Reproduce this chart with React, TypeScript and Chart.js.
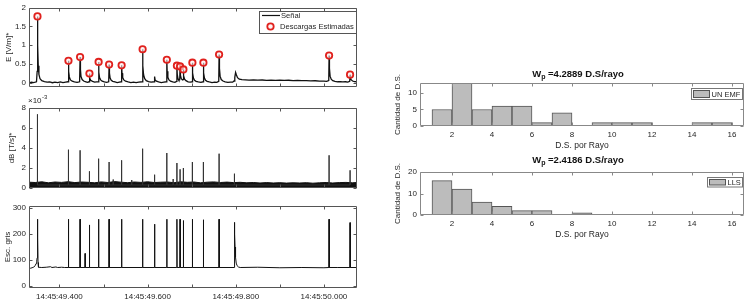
import React, { useEffect, useRef } from "react";
import { Chart, registerables } from "chart.js";

Chart.register(...registerables);

const W = 752;
const H = 305;
const FONT = '"Liberation Sans", Arial, sans-serif';
const TXT = "#262626";

// ---- time axis (ms after 14:45:49.000) ----
const timeMin = 331;
const timeMax = 1075;
const timeTickValues = [400, 600, 800, 1000];
const timeTickLabels = ["14:45:49.400", "14:45:49.600", "14:45:49.800", "14:45:50.000"];
const timeMinorTicks = [400, 500, 600, 700, 800, 900, 1000];

// ---- E field signal [ms, V/m] ----
const eSignal: [number, number][] = [
  [331, 0.01], [334, -0.005], [337, 0.012], [341, 0.0], [345, 0.01], [348, 0.02], [349.5, 0.3],
  [350.2, 1.77], [351, 1.0], [352, 0.45], [353.5, 0.22], [356, 0.1], [360, 0.05], [366, 0.025],
  [372, 0.01], [378, 0.015], [384, -0.005], [390, 0.012], [396, 0.0], [402, 0.015], [408, -0.003],
  [414, 0.012], [419.5, 0.02], [420.5, 0.58], [421.3, 0.3], [422.5, 0.15], [425, 0.07], [429, 0.035],
  [434, 0.015], [440, 0.005], [445.8, 0.02], [446.9, 0.68], [447.7, 0.35], [449, 0.16], [451.5, 0.08],
  [455, 0.04], [460, 0.02], [464, 0.005], [467.3, 0.02], [468.1, 0.24], [469, 0.12], [471, 0.06],
  [475, 0.03], [480, 0.01], [484, 0.015], [488, 0.02], [488.9, 0.55], [489.7, 0.28], [491, 0.13],
  [493.5, 0.07], [497, 0.035], [502, 0.015], [507, 0.005], [511.8, 0.02], [512.7, 0.48], [513.5, 0.25],
  [515, 0.12], [517.5, 0.06], [521, 0.03], [526, 0.015], [531, 0.0], [536, 0.012], [540.2, 0.02],
  [541.1, 0.46], [542, 0.25], [543.5, 0.13], [546, 0.07], [550, 0.035], [556, 0.015], [562, 0.0],
  [568, 0.012], [574, -0.003], [580, 0.012], [587.8, 0.02], [588.7, 0.89], [589.5, 0.45], [591, 0.2],
  [593.5, 0.1], [597, 0.05], [602, 0.025], [608, 0.01], [614.8, 0.02], [615.9, 0.16], [617, 0.07],
  [620, 0.035], [625, 0.015], [631, 0.0], [637, 0.012], [642.8, 0.02], [643.6, 0.61], [644.4, 0.3],
  [646, 0.14], [648.5, 0.07], [652, 0.035], [657, 0.015], [662, 0.005], [665.7, 0.03], [666.5, 0.45],
  [667.3, 0.22], [669, 0.1], [671, 0.06], [672.9, 0.07], [673.7, 0.43], [674.5, 0.2], [676.5, 0.1],
  [679, 0.07], [680.4, 0.08], [681.2, 0.35], [682, 0.18], [684, 0.09], [687, 0.05], [692, 0.02],
  [697, 0.01], [700.8, 0.02], [701.6, 0.53], [702.4, 0.26], [704, 0.12], [706.5, 0.06], [710, 0.03],
  [715, 0.015], [721, 0.003], [725.8, 0.02], [726.6, 0.53], [727.4, 0.26], [729, 0.12], [731.5, 0.06],
  [735, 0.03], [740, 0.015], [746, 0.0], [752, 0.012], [757, 0.005], [761.4, 0.03], [762.2, 0.75],
  [763, 0.38], [764.5, 0.17], [767, 0.08], [771, 0.04], [776, 0.02], [782, 0.005], [788, 0.012],
  [793, 0.01], [796, 0.04], [797.8, 0.14], [799.6, 0.27], [801.5, 0.2], [804, 0.13], [808, 0.09],
  [814, 0.075], [822, 0.07], [830, 0.065], [840, 0.07], [850, 0.062], [860, 0.067], [870, 0.06],
  [880, 0.065], [890, 0.057], [900, 0.062], [910, 0.055], [920, 0.06], [930, 0.052], [940, 0.056],
  [950, 0.05], [960, 0.053], [970, 0.045], [980, 0.047], [990, 0.038], [1000, 0.035], [1006, 0.03],
  [1010.9, 0.05], [1011.7, 0.72], [1012.5, 0.38], [1014, 0.17], [1016.5, 0.09], [1020, 0.05],
  [1025, 0.03], [1031, 0.02], [1037, 0.025], [1043, 0.015], [1049, 0.02], [1054, 0.012], [1058.5, 0.03],
  [1059.3, 0.21], [1060.2, 0.12], [1062, 0.07], [1065, 0.04], [1069, 0.025], [1075, 0.02],
];

// ---- estimated discharges ----
const peakTimes = [350.2, 420.5, 446.9, 468.1, 488.9, 512.7, 541.1, 588.7, 643.6, 666.5, 673.7, 681.2, 701.6, 726.6, 762.2, 1011.7, 1059.3];
const peakValues = [1.77, 0.58, 0.68, 0.24, 0.55, 0.48, 0.46, 0.89, 0.61, 0.45, 0.43, 0.35, 0.53, 0.53, 0.75, 0.72, 0.21];
const eYTicks = [0, 0.5, 1, 1.5, 2];

// ---- dB/dt (x10^-3 T/s) ----
const dbSpikeTimes = [350.2, 420.5, 446.9, 468.1, 488.9, 512.7, 522, 541.1, 564, 588.7, 615.9, 643.6, 658, 666.5, 673.7, 681.2, 701.6, 726.6, 762.2, 797, 1011.7, 1059.3];
const dbSpikeValues = [7.37, 3.83, 3.77, 1.67, 2.93, 2.6, 0.85, 2.77, 0.8, 3.93, 1.33, 3.5, 0.9, 2.5, 1.87, 2.0, 2.6, 2.6, 3.43, 1.43, 3.27, 1.77];
const dbNoiseTop: [number, number][] = [
  [331, 0.58], [345, 0.55], [360, 0.62], [375, 0.52], [390, 0.6], [405, 0.56], [420, 0.63], [435, 0.54],
  [450, 0.6], [465, 0.57], [480, 0.52], [495, 0.61], [510, 0.55], [525, 0.64], [540, 0.58], [555, 0.53],
  [570, 0.6], [585, 0.56], [600, 0.62], [615, 0.55], [630, 0.58], [645, 0.6], [660, 0.53], [675, 0.62],
  [690, 0.57], [705, 0.6], [720, 0.52], [735, 0.58], [750, 0.61], [765, 0.55], [780, 0.59], [795, 0.54],
  [810, 0.57], [825, 0.52], [840, 0.55], [855, 0.5], [870, 0.54], [885, 0.5], [900, 0.53], [915, 0.49],
  [930, 0.52], [945, 0.5], [960, 0.53], [975, 0.48], [990, 0.52], [1005, 0.55], [1020, 0.5], [1035, 0.54],
  [1050, 0.56], [1065, 0.52], [1075, 0.55],
];
const dbYTicks = [0, 2, 4, 6, 8];

// ---- grey scale (video) ----
const graySignal: [number, number][] = [
  [331, 66], [334, 68], [338, 70], [342, 73], [345, 78], [347, 86], [348.5, 95], [349.5, 108],
  [350.2, 257], [350.8, 185], [351.5, 90], [352.5, 72], [360, 71], [370, 72], [380, 74], [383, 71],
  [392, 73], [396, 71], [405, 72], [412, 71], [420.1, 71], [420.5, 257], [420.9, 71], [446.5, 71],
  [446.9, 257], [447.3, 71], [457.9, 71], [458.3, 125], [458.7, 71], [467.7, 71], [468.1, 235],
  [468.5, 71], [488.5, 71], [488.9, 257], [489.3, 71], [512.3, 71], [512.7, 257], [513.1, 71],
  [540.7, 71], [541.1, 257], [541.5, 71], [588.3, 71], [588.7, 257], [589.1, 71], [615.5, 71],
  [615.9, 238], [616.3, 71], [643.2, 71], [643.6, 257], [644, 71], [666.1, 71], [666.5, 257],
  [666.9, 71], [673.3, 71], [673.7, 257], [674.1, 71], [680.8, 71], [681.2, 252], [681.6, 71],
  [701.2, 71], [701.6, 257], [702, 71], [726.2, 71], [726.6, 255], [727, 71], [761.8, 71],
  [762.2, 257], [762.6, 71], [796.6, 71], [797, 245], [797.6, 200], [798.4, 150], [799.5, 110],
  [801, 88], [803, 78], [806, 73], [810, 71], [850, 72], [900, 70], [950, 71], [1000, 70],
  [1011.3, 71], [1011.7, 257], [1012.1, 71], [1030, 71], [1058.9, 71], [1059.3, 244], [1059.7, 71],
  [1075, 71],
];
const grayYTicks = [0, 100, 200, 300];

// ---- histograms ----
const histBinCenters = [1.5, 2.5, 3.5, 4.5, 5.5, 6.5, 7.5, 8.5, 9.5, 10.5, 11.5, 12.5, 13.5, 14.5, 15.5];
const unEmfCounts = [5, 13, 5, 6, 6, 1, 4, 0, 1, 1, 1, 0, 0, 1, 1];
const llsCounts = [16, 12, 6, 4, 2, 2, 0, 1, 0, 0, 0, 0, 0, 0, 0];
const histXTicks = [2, 4, 6, 8, 10, 12, 14, 16];
const unEmfYTicks = [0, 5, 10];
const llsYTicks = [0, 10, 20];
const unEmfWp = "4.2889";
const llsWp = "2.4186";

type Box = { L: number; R: number; T: number; B: number };

function pad(box: Box, yw: number, xh: number) {
  return { left: box.L - yw, top: box.T, right: W - box.R, bottom: H - box.B - xh };
}

function makeFrame(
  xTicks: number[],
  yTicks: number[],
  color: string,
  len: number,
  extra?: (ctx: CanvasRenderingContext2D, chart: any) => void
) {
  return {
    id: "frame",
    afterDatasetsDraw(chart: any) {
      const { ctx, chartArea: a } = chart;
      const xs = chart.scales.x;
      const ys = chart.scales.y;
      const l = Math.round(a.left) + 0.5;
      const r = Math.round(a.right) - 0.5;
      const t = Math.round(a.top) + 0.5;
      const b = Math.round(a.bottom) - 0.5;
      ctx.save();
      ctx.strokeStyle = color;
      ctx.lineWidth = 1;
      ctx.beginPath();
      ctx.rect(l, t, r - l, b - t);
      for (const v of xTicks) {
        const p = Math.round(xs.getPixelForValue(v)) + 0.5;
        ctx.moveTo(p, b);
        ctx.lineTo(p, b - len);
        ctx.moveTo(p, t);
        ctx.lineTo(p, t + len);
      }
      for (const v of yTicks) {
        const p = Math.round(ys.getPixelForValue(v)) + 0.5;
        ctx.moveTo(l, p);
        ctx.lineTo(l + len, p);
        ctx.moveTo(r, p);
        ctx.lineTo(r - len, p);
      }
      ctx.stroke();
      ctx.restore();
      if (extra) {
        ctx.save();
        extra(ctx, chart);
        ctx.restore();
      }
    },
  };
}

function yAxis(min: number, max: number, ticks: number[], title: string, yw: number, titleSize: number) {
  return {
    type: "linear",
    min,
    max,
    afterFit: (s: any) => {
      s.width = yw;
    },
    afterBuildTicks: (s: any) => {
      s.ticks = ticks.map((v) => ({ value: v }));
    },
    grid: { display: false, drawTicks: false },
    border: { display: false },
    ticks: {
      font: { family: FONT, size: 8 },
      color: TXT,
      padding: 3,
      autoSkip: false,
      callback: (v: number) => String(v),
    },
    title: { display: true, text: title, font: { family: FONT, size: titleSize }, color: TXT, padding: 0 },
  };
}

const baseOptions = {
  responsive: false,
  animation: false,
  events: [],
  plugins: { legend: { display: false }, tooltip: { enabled: false }, title: { display: false } },
};

function eConfig(): any {
  const box = { L: 29, R: 357, T: 5, B: 87 };
  const yw = box.L - (8.5 - 0.6 * 8);
  return {
    type: "line",
    data: {
      datasets: [
        {
          data: peakTimes.map((t, i) => ({ x: t, y: peakValues[i] })),
          showLine: false,
          pointRadius: 3.2,
          pointStyle: "circle",
          pointBorderColor: "#e0211d",
          pointBackgroundColor: "rgba(255,235,235,0.6)",
          pointBorderWidth: 1.8,
          borderColor: "#e0211d",
        },
        {
          data: eSignal.map(([x, y]) => ({ x, y })),
          borderColor: "#111",
          borderWidth: 1.3,
          pointRadius: 0,
          tension: 0,
          fill: false,
        },
      ],
    },
    options: {
      ...baseOptions,
      layout: { padding: pad(box, yw, 0) },
      scales: {
        x: { type: "linear", display: false, min: timeMin, max: timeMax },
        y: yAxis(-0.12, 2, eYTicks, "E [V/m]*", yw, 8),
      },
    },
    plugins: [
      makeFrame(timeMinorTicks, eYTicks, "#555", 3, (ctx) => {
        ctx.fillStyle = "#fff";
        ctx.strokeStyle = "#555";
        ctx.lineWidth = 1;
        ctx.fillRect(259.5, 11.5, 97, 22);
        ctx.strokeRect(259.5, 11.5, 97, 22);
        ctx.strokeStyle = "#111";
        ctx.lineWidth = 1.2;
        ctx.beginPath();
        ctx.moveTo(262, 15.5);
        ctx.lineTo(280, 15.5);
        ctx.stroke();
        ctx.strokeStyle = "#e0211d";
        ctx.lineWidth = 1.8;
        ctx.fillStyle = "rgba(255,235,235,0.6)";
        ctx.beginPath();
        ctx.arc(270.5, 26.5, 3.2, 0, Math.PI * 2);
        ctx.fill();
        ctx.stroke();
        ctx.fillStyle = TXT;
        ctx.font = `7.6px ${FONT}`;
        ctx.textBaseline = "middle";
        ctx.textAlign = "left";
        ctx.fillText("Señal", 281, 15.5);
        ctx.fillText("Descargas Estimadas", 280, 26.5);
      }),
    ],
  };
}

function dbConfig(): any {
  const box = { L: 29, R: 357, T: 108, B: 188 };
  const yw = box.L - (12 - 0.6 * 8);
  const trace: { x: number; y: number }[] = [];
  dbSpikeTimes.forEach((t, i) => {
    trace.push({ x: t, y: 0.3 }, { x: t, y: dbSpikeValues[i] }, { x: t, y: 0.3 });
  });
  return {
    type: "line",
    data: {
      datasets: [
        {
          data: trace,
          borderColor: "#333",
          borderWidth: 1,
          pointRadius: 0,
          tension: 0,
          fill: false,
        },
        {
          data: dbNoiseTop.map(([x, y]) => ({ x, y })),
          borderColor: "#111",
          backgroundColor: "#111",
          borderWidth: 1,
          pointRadius: 0,
          tension: 0,
          fill: "origin",
        },
      ],
    },
    options: {
      ...baseOptions,
      layout: { padding: pad(box, yw, 0) },
      scales: {
        x: { type: "linear", display: false, min: timeMin, max: timeMax },
        y: yAxis(0, 8, dbYTicks, "dB [T/s]*", yw, 8),
      },
    },
    plugins: [
      makeFrame(timeMinorTicks, dbYTicks, "#555", 3, (ctx) => {
        ctx.fillStyle = TXT;
        ctx.textBaseline = "middle";
        ctx.textAlign = "left";
        ctx.font = `8px ${FONT}`;
        ctx.fillText("×10", 28, 101);
        const w = ctx.measureText("×10").width;
        ctx.font = `6px ${FONT}`;
        ctx.fillText("-3", 28 + w + 0.5, 97.5);
      }),
    ],
  };
}

function grayConfig(): any {
  const box = { L: 29, R: 357, T: 206, B: 288 };
  const yw = box.L - (7.5 - 0.6 * 8);
  const xh = 14;
  return {
    type: "line",
    data: {
      datasets: [
        {
          data: graySignal.map(([x, y]) => ({ x, y })),
          borderColor: "#111",
          borderWidth: 1,
          pointRadius: 0,
          tension: 0,
          fill: false,
        },
      ],
    },
    options: {
      ...baseOptions,
      layout: { padding: pad(box, yw, xh) },
      scales: {
        x: {
          type: "linear",
          min: timeMin,
          max: timeMax,
          afterFit: (s: any) => {
            s.height = xh;
          },
          afterBuildTicks: (s: any) => {
            s.ticks = timeTickValues.map((v) => ({ value: v }));
          },
          grid: { display: false, drawTicks: false },
          border: { display: false },
          ticks: {
            autoSkip: false,
            maxRotation: 0,
            padding: 4,
            font: { family: FONT, size: 8 },
            color: TXT,
            callback: (v: number) => {
              const i = timeTickValues.indexOf(v);
              return i >= 0 ? timeTickLabels[i] : "";
            },
          },
        },
        y: yAxis(-8, 308, grayYTicks, "Esc. gris", yw, 8),
      },
    },
    plugins: [makeFrame(timeMinorTicks, grayYTicks, "#555", 3)],
  };
}

function drawWpTitle(ctx: CanvasRenderingContext2D, cx: number, cy: number, value: string) {
  const big = `bold 9.5px ${FONT}`;
  const small = `bold 7px ${FONT}`;
  const rest = ` =${value} D.S/rayo`;
  ctx.font = big;
  const wW = ctx.measureText("W").width;
  const wR = ctx.measureText(rest).width;
  ctx.font = small;
  const wP = ctx.measureText("p").width;
  let x = cx - (wW + wP + wR) / 2;
  ctx.fillStyle = "#111";
  ctx.textBaseline = "middle";
  ctx.textAlign = "left";
  ctx.font = big;
  ctx.fillText("W", x, cy);
  x += wW;
  ctx.font = small;
  ctx.fillText("p", x, cy + 3);
  x += wP;
  ctx.font = big;
  ctx.fillText(rest, x, cy);
}

function drawHistLegend(ctx: CanvasRenderingContext2D, x: number, y: number, w: number, h: number, label: string) {
  ctx.fillStyle = "#fff";
  ctx.strokeStyle = "#777";
  ctx.lineWidth = 1;
  ctx.fillRect(x, y, w, h);
  ctx.strokeRect(x, y, w, h);
  ctx.fillStyle = "#bcbcbc";
  ctx.strokeStyle = "#555";
  ctx.fillRect(x + 2, y + 2, 16, h - 4);
  ctx.strokeRect(x + 2, y + 2, 16, h - 4);
  ctx.fillStyle = TXT;
  ctx.font = `7.5px ${FONT}`;
  ctx.textBaseline = "middle";
  ctx.textAlign = "left";
  ctx.fillText(label, x + 20, y + h / 2 + 0.5);
}

function histConfig(
  box: Box,
  counts: number[],
  ymax: number,
  yTicks: number[],
  tickPad: number,
  xh: number,
  titleValue: string,
  titleY: number,
  legend: [number, number, number, number, string]
): any {
  const yw = box.L - (398 - 0.6 * 8);
  return {
    type: "bar",
    data: {
      datasets: [
        {
          data: histBinCenters.map((c, i) => ({ x: c, y: counts[i] === 0 ? null : counts[i] })),
          backgroundColor: "#bcbcbc",
          borderColor: "#555",
          borderWidth: 1,
          barPercentage: 1,
          categoryPercentage: 1,
        },
      ],
    },
    options: {
      ...baseOptions,
      layout: { padding: pad(box, yw, xh) },
      scales: {
        x: {
          type: "linear",
          min: 0.4,
          max: 16.6,
          offset: false,
          afterFit: (s: any) => {
            s.height = xh;
          },
          afterBuildTicks: (s: any) => {
            s.ticks = histXTicks.map((v) => ({ value: v }));
          },
          grid: { display: false, drawTicks: false, offset: false },
          border: { display: false },
          ticks: {
            autoSkip: false,
            maxRotation: 0,
            padding: tickPad,
            font: { family: FONT, size: 8 },
            color: TXT,
            callback: (v: number) => String(v),
          },
          title: {
            display: true,
            text: "D.S. por Rayo",
            font: { family: FONT, size: 8.5 },
            color: TXT,
            padding: 0,
          },
        },
        y: {
          ...yAxis(0, ymax, yTicks, "Cantidad de D.S.", yw, 8),
        },
      },
    },
    plugins: [
      makeFrame(histXTicks, yTicks, "#888", 3, (ctx) => {
        drawWpTitle(ctx, 578, titleY, titleValue);
        drawHistLegend(ctx, legend[0], legend[1], legend[2], legend[3], legend[4]);
      }),
    ],
  };
}

export default function App() {
  const r1 = useRef<HTMLCanvasElement>(null);
  const r2 = useRef<HTMLCanvasElement>(null);
  const r3 = useRef<HTMLCanvasElement>(null);
  const r4 = useRef<HTMLCanvasElement>(null);
  const r5 = useRef<HTMLCanvasElement>(null);

  useEffect(() => {
    const charts = [
      new Chart(r1.current!, eConfig()),
      new Chart(r2.current!, dbConfig()),
      new Chart(r3.current!, grayConfig()),
      new Chart(
        r4.current!,
        histConfig({ L: 420, R: 744, T: 83, B: 126 }, unEmfCounts, 13, unEmfYTicks, 4, 25.1, unEmfWp, 74, [
          691.5, 88.5, 51, 11, "UN EMF",
        ])
      ),
      new Chart(
        r5.current!,
        histConfig({ L: 420, R: 744, T: 172, B: 215 }, llsCounts, 20, llsYTicks, 3.5, 25.1, llsWp, 160.5, [
          707.5, 177.5, 35, 9.5, "LLS",
        ])
      ),
    ];
    return () => charts.forEach((c) => c.destroy());
  }, []);

  const st: React.CSSProperties = { position: "absolute", left: 0, top: 0, width: W, height: H };
  return (
    <div style={{ position: "fixed", left: 0, top: 0, width: W, height: H, background: "#fff" }}>
      <canvas ref={r1} width={W} height={H} style={st} />
      <canvas ref={r2} width={W} height={H} style={st} />
      <canvas ref={r3} width={W} height={H} style={st} />
      <canvas ref={r4} width={W} height={H} style={st} />
      <canvas ref={r5} width={W} height={H} style={st} />
    </div>
  );
}
